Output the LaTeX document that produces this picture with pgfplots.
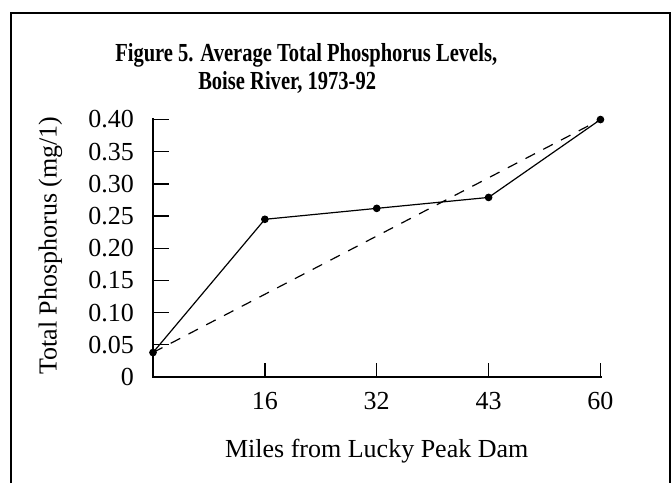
\documentclass[border=0pt]{standalone}
\usepackage{fontspec}
\setmainfont{Liberation Serif}
\usepackage{graphicx}
\usepackage{pgfplots}
\pgfplotsset{compat=1.18}

\newcommand\lab{\fontsize{19.5}{23.4}\selectfont}

\begin{document}
\begin{tikzpicture}
\useasboundingbox (0,0) rectangle (504pt,362.25pt);
% open frame (cut off at the bottom)
\draw[line width=1.6pt] (8.25pt,0) -- (8.25pt,352.5pt) -- (502.5pt,352.5pt) -- (502.5pt,0);

% title, set condensed
\node[anchor=base west, inner sep=0pt] at (86.25pt,315.75pt)
  {\scalebox{0.79}[1]{\lab\bfseries Figure 5. Average Total Phosphorus Levels,}};
\node[anchor=base west, inner sep=0pt] at (148.5pt,294.75pt)
  {\scalebox{0.79}[1]{\lab\bfseries Boise River, 1973-92}};

\begin{axis}[
    scale only axis,
    width=335.6pt,
    height=193.1pt,
    at={(114.75pt,79.5pt)},
    anchor=south west,
    xmin=0, xmax=4,
    ymin=0, ymax=0.40,
    clip=false,
    axis lines=left,
    axis line style={-, line width=1.8pt, line cap=rect},
    tick align=inside,
    tick style={black, line width=1pt},
    xtick={1,2,3,4},
    xticklabels={16,32,43,60},
    xtick style={/pgfplots/major tick length=10.5pt},
    ytick={0,0.05,0.10,0.15,0.20,0.25,0.30,0.35,0.40},
    yticklabels={0,0.05,0.10,0.15,0.20,0.25,0.30,0.35,0.40},
    ytick style={/pgfplots/major tick length=12pt},
    xticklabel style={font=\lab, yshift=-7.75pt},
    yticklabel style={font=\lab, xshift=-10.75pt},
    xlabel={Miles from Lucky Peak Dam},
    ylabel={Total Phosphorus (mg/1)},
    xlabel style={font=\lab, at={(axis description cs:0.5,0)}, anchor=base, yshift=-60pt},
    ylabel style={font=\lab, at={(axis description cs:-0.2294,0.51)}, anchor=center},
    mark size=2.4pt,
]
\addplot[black, line width=0.9pt, mark=*, mark options={solid}] coordinates {
(0,0.038)
(1,0.245)
(2,0.262)
(3,0.279)
(4,0.400)
};
\addplot[black, line width=0.9pt, dash pattern=on 8pt off 7pt] coordinates {
(0,0.038)
(4,0.400)
};
\end{axis}
\end{tikzpicture}
\end{document}
